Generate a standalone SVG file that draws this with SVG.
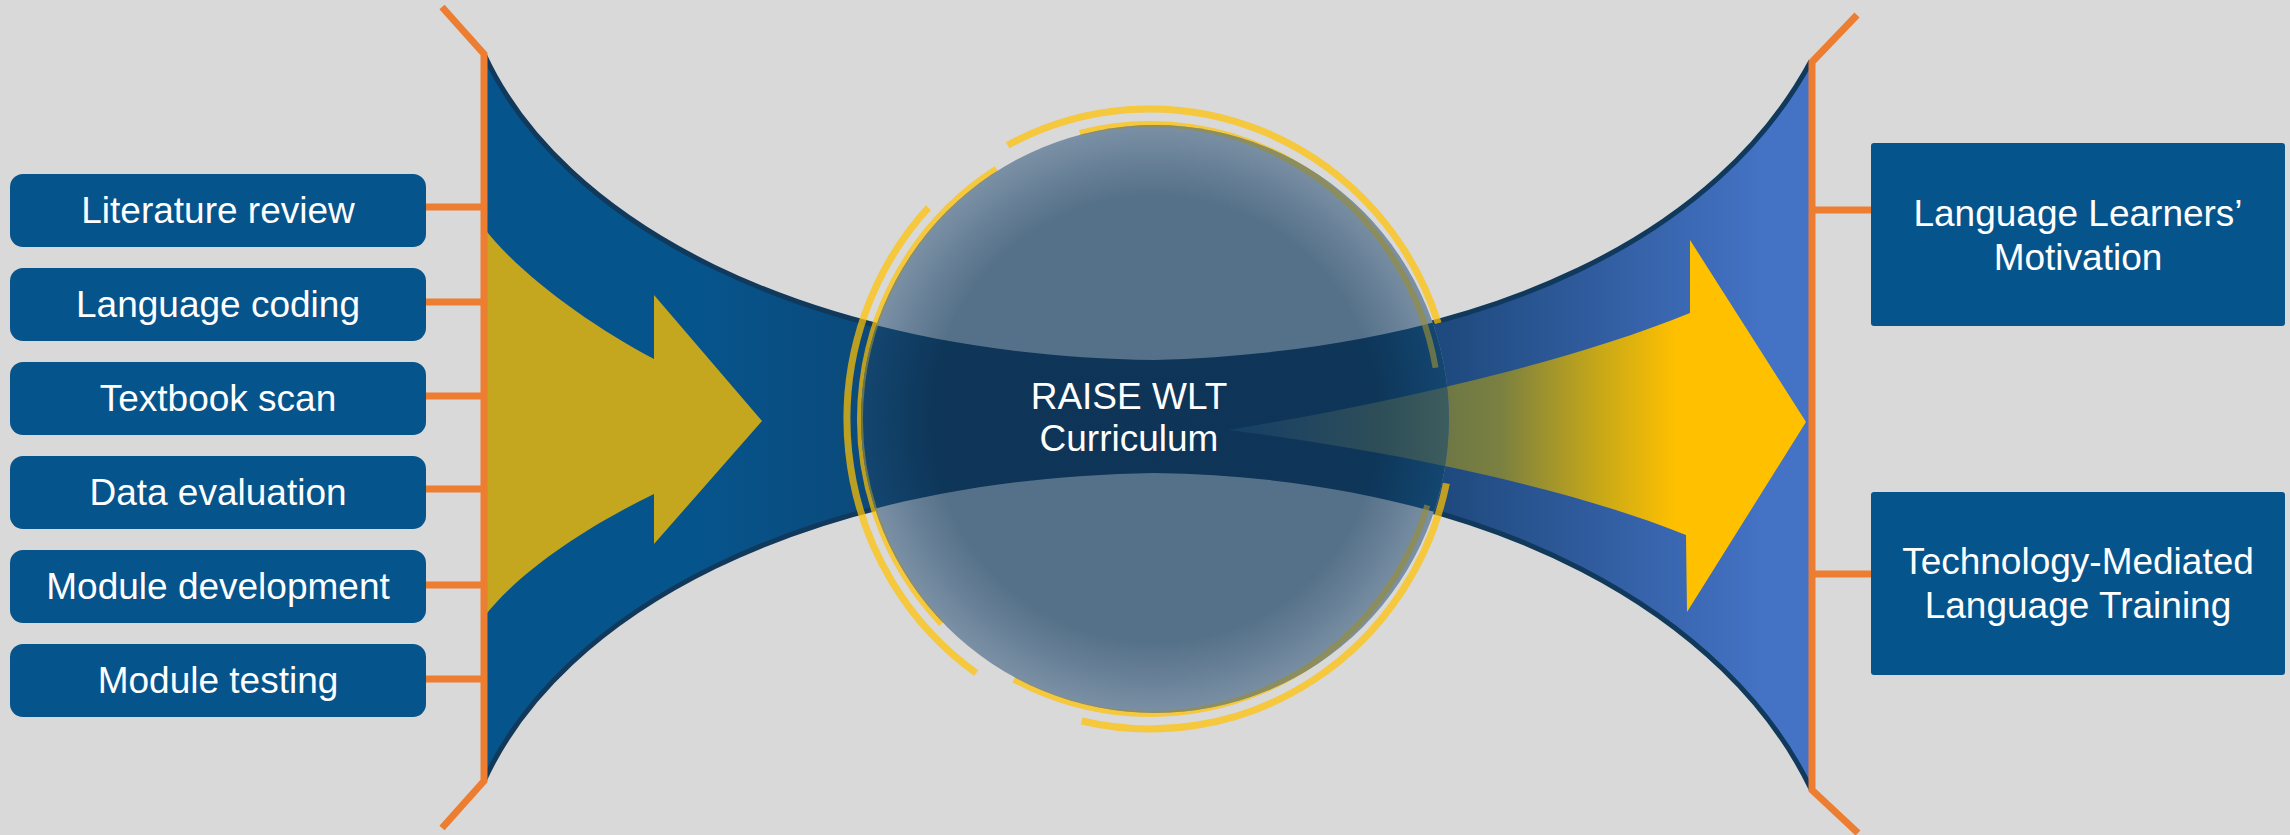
<svg xmlns="http://www.w3.org/2000/svg" width="2290" height="835" viewBox="0 0 2290 835">
<style>
.box{fill:#06548c}
.lbl{font-family:"Liberation Sans",Arial,sans-serif;font-size:37px;fill:#ffffff;text-anchor:middle}
.conn{stroke:#ed7d31;stroke-width:7;fill:none}
.ringY{fill:none;stroke:#ffc000;stroke-opacity:0.72}
.ringO{fill:none;stroke:#978e39;stroke-opacity:0.65}
.edge{fill:none;stroke:#11395c;stroke-width:5}
</style>
<defs>
<linearGradient id="bandG" gradientUnits="userSpaceOnUse" x1="484" y1="0" x2="1811" y2="0">
<stop offset="0" stop-color="#06548c"/>
<stop offset="0.163" stop-color="#06548c"/>
<stop offset="0.283" stop-color="#0b4a7c"/>
<stop offset="0.5" stop-color="#0e3b64"/>
<stop offset="0.727" stop-color="#1f4a7f"/>
<stop offset="0.962" stop-color="#4472c4"/>
<stop offset="1" stop-color="#4472c4"/>
</linearGradient>
<linearGradient id="arrowG" gradientUnits="userSpaceOnUse" x1="1228" y1="0" x2="1690" y2="0">
<stop offset="0" stop-color="#1b4a7a"/>
<stop offset="0.478" stop-color="#6f7845"/>
<stop offset="0.589" stop-color="#7a8040"/>
<stop offset="0.805" stop-color="#c8a818"/>
<stop offset="0.97" stop-color="#ffc000"/>
<stop offset="1" stop-color="#ffc000"/>
</linearGradient>
<radialGradient id="circG" cx="1155" cy="419" r="294" gradientUnits="userSpaceOnUse">
<stop offset="0" stop-color="#557189"/>
<stop offset="0.76" stop-color="#557189"/>
<stop offset="1" stop-color="#7b90a5"/>
</radialGradient>
<radialGradient id="darkG" cx="1155" cy="419" r="294" gradientUnits="userSpaceOnUse">
<stop offset="0" stop-color="#0e3558"/>
<stop offset="0.76" stop-color="#0e3659"/>
<stop offset="1" stop-color="#134670"/>
</radialGradient>
<clipPath id="cc"><circle cx="1155" cy="419" r="294"/></clipPath>
</defs>
<rect x="0" y="0" width="2290" height="835" fill="#d9d9d9"/>

<g id="funnel">
<path d="M484,54 C560,220 800,355 1154,360 C1500,350 1720,230 1811,61 L1811,789 C1730,620 1500,478 1154,473 C800,479 560,614 484,781 Z" fill="url(#bandG)"/>
<path class="edge" d="M484,54 C560,220 800,355 1154,360 C1500,350 1720,230 1811,61"/>
<path class="edge" d="M484,781 C560,614 800,479 1154,473 C1500,478 1730,620 1811,789"/>
<path id="arrow-in" d="M484,228 C520,275 590,325 654,359 L654,295 L762,421 L654,544 L654,494 C590,525 520,570 484,617 Z" fill="#c5a61f"/>
<path id="arrow-out" d="M1228,430 C1350,410 1550,370 1690,313 L1690,240 L1806,422 L1687,612 L1686,535 C1550,480 1350,445 1228,430 Z" fill="url(#arrowG)"/>
</g>

<g id="hub">
<path class="ringY" stroke-width="6" d="M1079.8,132.8 A290,295 0 0 1 1435.6,367.8"/>
<path class="ringY" stroke-width="6" d="M941.4,623.9 A290,295 0 0 1 996.3,168.8"/>
<path class="ringY" stroke-width="6" d="M1427.3,505.3 A290,295 0 0 1 1013.8,679.5"/>
<circle cx="1155" cy="419" r="294" fill="url(#circG)"/>
<g clip-path="url(#cc)">
<path d="M484,54 C560,220 800,355 1154,360 C1500,350 1720,230 1811,61 L1811,789 C1730,620 1500,478 1154,473 C800,479 560,614 484,781 Z" fill="url(#darkG)"/>
<path d="M1228,430 C1350,410 1550,370 1690,313 L1690,240 L1806,422 L1687,612 L1686,535 C1550,480 1350,445 1228,430 Z" fill="url(#arrowG)" opacity="0.45"/>
<path class="ringO" stroke-width="6" d="M1079.8,132.8 A290,295 0 0 1 1435.6,367.8"/>
<path class="ringO" stroke-width="6" d="M941.4,623.9 A290,295 0 0 1 996.3,168.8"/>
<path class="ringO" stroke-width="6" d="M1427.3,505.3 A290,295 0 0 1 1013.8,679.5"/>
</g>
<path class="ringY" stroke-width="7" d="M1007.7,145.3 A303,310 0 0 1 1438.2,323.2"/>
<path class="ringY" stroke-width="7" d="M976.2,673 A303,310 0 0 1 928.4,207.6"/>
<path class="ringY" stroke-width="7" d="M1446.4,483.4 A303,310 0 0 1 1081.8,721"/>
<text class="lbl" x="1129" y="409">RAISE WLT</text>
<text class="lbl" x="1129" y="451">Curriculum</text>
</g>

<g id="connectors">
<polyline class="conn" points="442,7 484,54 484,781 442,828"/>
<polyline class="conn" points="1857,15 1812,62 1812,790 1858,833"/>
<line class="conn" x1="424" y1="207" x2="484" y2="207"/>
<line class="conn" x1="424" y1="302" x2="484" y2="302"/>
<line class="conn" x1="424" y1="396" x2="484" y2="396"/>
<line class="conn" x1="424" y1="489" x2="484" y2="489"/>
<line class="conn" x1="424" y1="585" x2="484" y2="585"/>
<line class="conn" x1="424" y1="679" x2="484" y2="679"/>
<line class="conn" x1="1812" y1="210" x2="1873" y2="210"/>
<line class="conn" x1="1812" y1="574" x2="1873" y2="574"/>
</g>

<g id="node-literature-review">
<rect class="box" x="10" y="174" width="416" height="73" rx="13"/>
<text class="lbl" x="218" y="223">Literature review</text>
</g>
<g id="node-language-coding">
<rect class="box" x="10" y="268" width="416" height="73" rx="13"/>
<text class="lbl" x="218" y="317">Language coding</text>
</g>
<g id="node-textbook-scan">
<rect class="box" x="10" y="362" width="416" height="73" rx="13"/>
<text class="lbl" x="218" y="411">Textbook scan</text>
</g>
<g id="node-data-evaluation">
<rect class="box" x="10" y="456" width="416" height="73" rx="13"/>
<text class="lbl" x="218" y="505">Data evaluation</text>
</g>
<g id="node-module-development">
<rect class="box" x="10" y="550" width="416" height="73" rx="13"/>
<text class="lbl" x="218" y="599">Module development</text>
</g>
<g id="node-module-testing">
<rect class="box" x="10" y="644" width="416" height="73" rx="13"/>
<text class="lbl" x="218" y="693">Module testing</text>
</g>

<g id="node-motivation">
<rect class="box" x="1871" y="143" width="414" height="183" rx="3"/>
<text class="lbl" x="2078" y="226">Language Learners’</text>
<text class="lbl" x="2078" y="270">Motivation</text>
</g>
<g id="node-training">
<rect class="box" x="1871" y="492" width="414" height="183" rx="3"/>
<text class="lbl" x="2078" y="574">Technology-Mediated</text>
<text class="lbl" x="2078" y="618">Language Training</text>
</g>
</svg>
